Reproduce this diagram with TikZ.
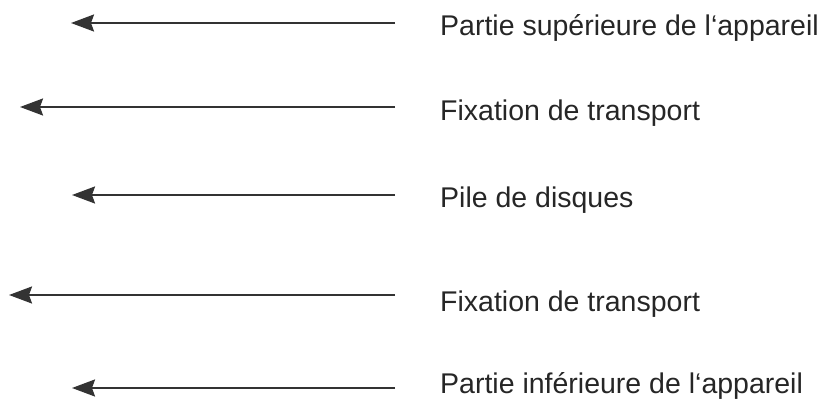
\documentclass[tikz,border=0pt]{standalone}
\usepackage{fontspec}
\setmainfont{Liberation Sans}
\usetikzlibrary{arrows.meta, positioning}
\definecolor{strich}{HTML}{333333}
\definecolor{schrift}{HTML}{262626}
\tikzset{
    x=1pt,
    y=1pt,
    teil/.style={anchor=base west, inner sep=0pt, text=schrift, font=\fontsize{28.5}{34}\selectfont},
    pfeil/.style={draw=strich, line width=2.2pt, -{Stealth[length=23pt, width=17pt, inset=3pt]}},
}

\begin{document}
\begin{tikzpicture}
    \useasboundingbox (0,0) rectangle (823,-404);

        \node[teil] (oben) at (440,-36) {Partie supérieure de l‘appareil};
        \node[teil] (fixA) at (440,-121) {Fixation de transport};
        \node[teil] (pile) at (440,-207) {Pile de disques};
        \node[teil] (fixB) at (440,-311) {Fixation de transport};
        \node[teil] (unten) at (440,-393) {Partie inférieure de l‘appareil};

        \coordinate (obenS) at (395,-23);
        \coordinate (obenZ) at (71,-23);
        \coordinate (fixAS) at (395,-107);
        \coordinate (fixAZ) at (20,-107);
        \coordinate (pileS) at (395,-195);
        \coordinate (pileZ) at (72,-195);
        \coordinate (fixBS) at (395,-295);
        \coordinate (fixBZ) at (9,-295);
        \coordinate (untenS) at (395,-388);
        \coordinate (untenZ) at (72,-388);

    \path
        (obenS) edge[pfeil] (obenZ)
        (fixAS) edge[pfeil] (fixAZ)
        (pileS) edge[pfeil] (pileZ)
        (fixBS) edge[pfeil] (fixBZ)
        (untenS) edge[pfeil] (untenZ);
\end{tikzpicture}
\end{document}
